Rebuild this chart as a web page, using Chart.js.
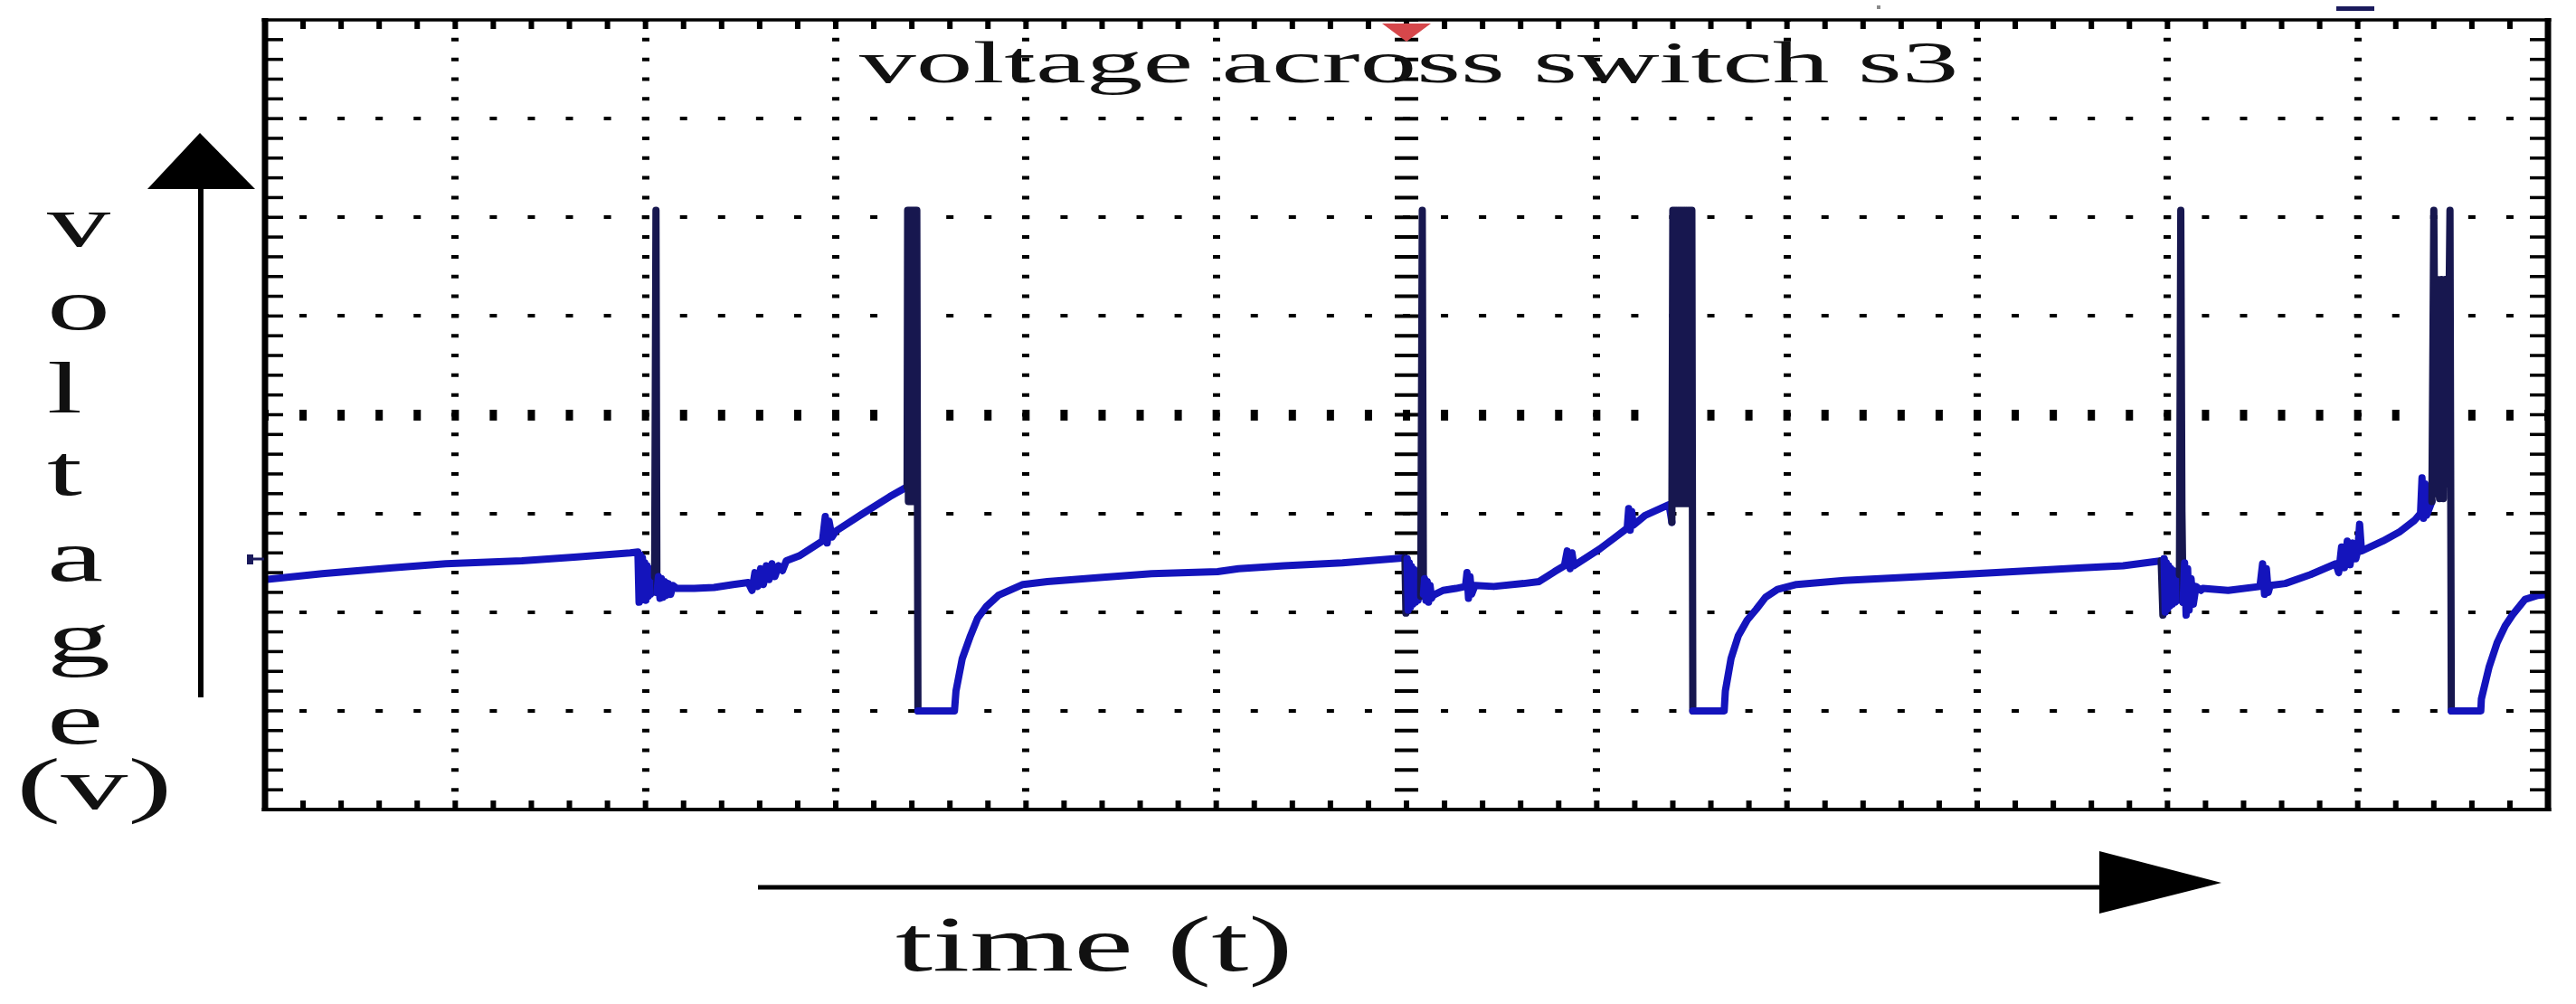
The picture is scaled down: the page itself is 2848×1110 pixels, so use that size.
<!DOCTYPE html>
<html>
<head>
<meta charset="utf-8">
<script src="https://cdn.jsdelivr.net/npm/chart.js@4.4.0/dist/chart.umd.min.js"></script>
<style>
  body { margin: 0; padding: 0; background: #fff; }
  #wrap { position: relative; width: 2848px; height: 1110px; overflow: hidden; background: #fff; }
  #chartCanvas { position: absolute; left: 0; top: 0; }
  .lbl {
    position: absolute;
    font-family: "Liberation Serif", "DejaVu Serif", serif;
    line-height: 1;
    color: #111;
    white-space: nowrap;
    transform-origin: 0 0;
  }
</style>
</head>
<body>
<div id="wrap">
  <canvas id="chartCanvas" width="2848" height="1110"></canvas>
  <div class="lbl" style="left:950px; top:36px; font-size:66px; transform:scaleX(1.9)">voltage across switch s3</div>
  <div class="lbl" style="left:990px; top:1001px; font-size:86px; transform:scaleX(1.72)">time (t)</div>
  <div class="lbl" style="left:52px; top:205px; font-size:80px; transform:scaleX(1.75)">v</div>
  <div class="lbl" style="left:52px; top:297px; font-size:80px; transform:scaleX(1.75)">o</div>
  <div class="lbl" style="left:52px; top:389px; font-size:80px; transform:scaleX(1.75)">l</div>
  <div class="lbl" style="left:52px; top:480px; font-size:80px; transform:scaleX(1.75)">t</div>
  <div class="lbl" style="left:52px; top:575px; font-size:80px; transform:scaleX(1.75)">a</div>
  <div class="lbl" style="left:52px; top:665px; font-size:80px; transform:scaleX(1.75)">g</div>
  <div class="lbl" style="left:52px; top:755px; font-size:80px; transform:scaleX(1.75)">e</div>
  <div class="lbl" style="left:18px; top:827px; font-size:80px; transform:scaleX(1.85)">(v)</div>
</div>
<script>
// screen divisions of the scope graticule
const xDivisions = 12;
const yDivisions = 8;
const minorPerDiv = 5;

// trace, in divisions (time, voltage)
const traceTime = [
  // slow ramp before the first turn-off
  0.00, 0.30, 0.67, 0.95, 1.35, 1.64, 1.92, 1.96,
  // ringing + narrow spike
  1.966, 1.972, 1.978, 1.984, 1.990, 1.996, 2.002, 2.008, 2.014, 2.020, 2.026, 2.032, 2.040, 2.048, 2.055, 2.060,
  2.068, 2.076, 2.084, 2.092, 2.100, 2.110, 2.120, 2.132, 2.145, 2.165,
  // rising curve
  2.256, 2.360, 2.461, 2.540, 2.560, 2.575, 2.590, 2.605, 2.620, 2.635, 2.650, 2.665, 2.680, 2.700, 2.720, 2.740,
  2.808, 2.930, 2.945, 2.955, 2.965, 2.980, 3.000, 3.127, 3.284, 3.375,
  // wide spike, drop to the floor
  3.378, 3.382, 3.386, 3.390, 3.394, 3.398, 3.402, 3.406, 3.410, 3.414, 3.418, 3.422, 3.426, 3.432,
  3.624, 3.632, 3.665, 3.708, 3.746, 3.793, 3.855, 3.984, 4.112, 4.388, 4.660, 5.007, 5.117, 5.355, 5.664, 5.992,
  // second period
  5.997, 6.003, 6.009, 6.015, 6.021, 6.027, 6.033, 6.040, 6.047, 6.054, 6.061, 6.068, 6.075, 6.083, 6.089,
  6.095, 6.102, 6.109, 6.116, 6.124, 6.132, 6.140,
  6.192, 6.260, 6.310, 6.318, 6.326, 6.334, 6.342, 6.360, 6.459, 6.616, 6.697, 6.778, 6.830, 6.845, 6.860, 6.870, 6.880,
  7.016, 7.092, 7.160, 7.168, 7.176, 7.184, 7.192, 7.254, 7.380, 7.395,
  7.400, 7.405, 7.410, 7.415, 7.420, 7.425, 7.430, 7.435, 7.440, 7.445, 7.450, 7.455, 7.460, 7.465, 7.470, 7.475,
  7.480, 7.485, 7.490, 7.495, 7.500, 7.505,
  7.670, 7.676, 7.706, 7.744, 7.791, 7.839, 7.887, 7.950, 8.050, 8.300, 8.700, 9.100, 9.553, 9.767, 9.967,
  // third period
  9.976, 9.982, 9.988, 9.994, 10.000, 10.006, 10.012, 10.018, 10.025, 10.032, 10.040, 10.048, 10.056, 10.063, 10.070,
  10.076, 10.082, 10.090, 10.098, 10.106, 10.114, 10.124, 10.136, 10.150, 10.176,
  10.186, 10.319, 10.486, 10.500, 10.510, 10.520, 10.530, 10.540, 10.619, 10.752, 10.885, 10.900, 10.915, 10.930,
  10.945, 10.960, 10.975, 10.990, 11.000, 11.010, 11.020, 11.132, 11.218, 11.299, 11.330, 11.338, 11.346, 11.354,
  11.362, 11.390,
  11.400, 11.410, 11.420, 11.430, 11.440, 11.450, 11.460, 11.470, 11.485, 11.492,
  11.647, 11.650, 11.690, 11.733, 11.775, 11.813, 11.880, 11.947, 12.000
];
const traceVolts = [
  2.33, 2.39, 2.45, 2.49, 2.52, 2.56, 2.60, 2.61,
  2.10, 2.58, 2.12, 2.55, 2.14, 2.50, 2.12, 2.47, 2.16, 2.44, 2.18, 2.40, 2.20, 2.36, 6.07, 2.20,
  2.36, 2.14, 2.34, 2.15, 2.31, 2.17, 2.29, 2.18, 2.27, 2.24,
  2.24, 2.25, 2.28, 2.30, 2.22, 2.40, 2.26, 2.44, 2.28, 2.47, 2.33, 2.49, 2.36, 2.47, 2.42, 2.52,
  2.57, 2.72, 2.97, 2.70, 2.92, 2.76, 2.82, 2.98, 3.17, 3.27,
  6.07, 3.12, 6.07, 3.12, 6.07, 3.12, 6.07, 3.12, 6.07, 3.12, 6.07, 3.12, 6.07, 1.00,
  1.00, 1.20, 1.53, 1.76, 1.94, 2.06, 2.17, 2.28, 2.31, 2.35, 2.39, 2.41, 2.44, 2.47, 2.50, 2.55,
  1.99, 2.54, 2.02, 2.50, 2.05, 2.46, 2.08, 2.43, 2.10, 2.40, 2.12, 2.37, 2.16, 6.07, 2.18,
  2.34, 2.12, 2.31, 2.10, 2.27, 2.14, 2.17,
  2.22, 2.24, 2.26, 2.40, 2.14, 2.36, 2.18, 2.27, 2.26, 2.29, 2.31, 2.41, 2.47, 2.62, 2.44, 2.60, 2.47,
  2.64, 2.75, 2.85, 3.05, 2.83, 3.02, 2.88, 2.98, 3.09, 2.91,
  6.07, 3.10, 6.07, 3.10, 6.07, 3.10, 6.07, 3.10, 6.07, 3.10, 6.07, 3.10, 6.07, 3.10, 6.07, 3.10,
  6.07, 3.10, 6.07, 3.10, 6.07, 1.00,
  1.00, 1.20, 1.53, 1.76, 1.92, 2.03, 2.15, 2.23, 2.28, 2.32, 2.36, 2.40, 2.45, 2.47, 2.52,
  1.97, 2.54, 2.00, 2.50, 2.03, 2.47, 2.06, 2.44, 2.08, 2.42, 2.10, 2.40, 2.12, 2.38, 6.07,
  3.02, 2.10, 2.50, 1.97, 2.44, 2.02, 2.34, 2.08, 2.26, 2.22,
  2.24, 2.22, 2.26, 2.49, 2.18, 2.44, 2.20, 2.27, 2.29, 2.38, 2.49, 2.40, 2.66, 2.45,
  2.72, 2.48, 2.70, 2.54, 2.62, 2.89, 2.62, 2.72, 2.81, 2.93, 3.00, 3.36, 2.95, 3.30,
  2.98, 3.12,
  6.07, 3.20, 5.37, 3.15, 5.37, 3.15, 5.37, 3.30, 6.07, 1.00,
  1.00, 1.12, 1.44, 1.69, 1.86, 1.97, 2.13, 2.17, 2.18
];

// plot box on the page
const plotLeft = 293, plotRight = 2817, plotTop = 22, plotBottom = 895;
const minorX = (plotRight - plotLeft) / (xDivisions * minorPerDiv);
const minorY = (plotBottom - plotTop) / (yDivisions * minorPerDiv);

const clear = 'rgba(0,0,0,0)';

// frame and the small tick marks along its inside
const framePlugin = {
  id: 'frame',
  afterDatasetsDraw(chart) {
    const { ctx, chartArea: a } = chart;
    const xs = chart.scales.x, ys = chart.scales.y;
    ctx.save();
    ctx.fillStyle = '#000';
    for (let k = 1; k < xDivisions * minorPerDiv; k++) {
      const px = xs.getPixelForValue(k / minorPerDiv);
      ctx.fillRect(px - 3, a.top, 6, 10);
      ctx.fillRect(px - 3, a.bottom - 10, 6, 10);
    }
    for (let k = 1; k < yDivisions * minorPerDiv; k++) {
      const py = ys.getPixelForValue(k / minorPerDiv);
      ctx.fillRect(a.left, py - 1.75, 20, 3.5);
      ctx.fillRect(a.right - 20, py - 1.75, 20, 3.5);
    }
    ctx.fillRect(a.left - 3.5, a.top - 2, 7, a.bottom - a.top + 4);
    ctx.fillRect(a.right - 3.5, a.top - 2, 7, a.bottom - a.top + 4);
    ctx.fillRect(a.left - 3.5, a.top - 1.75, a.right - a.left + 7, 3.5);
    ctx.fillRect(a.left - 3.5, a.bottom - 2, a.right - a.left + 7, 4);
    ctx.restore();
  }
};

// arrows and the scope's little markers
const decorPlugin = {
  id: 'decor',
  afterDraw(chart) {
    const ctx = chart.ctx;
    ctx.save();
    ctx.fillStyle = '#000';
    // voltage arrow
    ctx.fillRect(219, 207, 6, 564);
    ctx.beginPath();
    ctx.moveTo(163, 209); ctx.lineTo(282, 209); ctx.lineTo(221, 147); ctx.closePath();
    ctx.fill();
    // time arrow
    ctx.fillRect(838, 978.5, 1488, 5);
    ctx.beginPath();
    ctx.moveTo(2321, 941); ctx.lineTo(2321, 1010); ctx.lineTo(2456, 976); ctx.closePath();
    ctx.fill();
    // trigger marker
    ctx.fillStyle = '#d6474b';
    ctx.beginPath();
    ctx.moveTo(1528, 26); ctx.lineTo(1582, 26); ctx.lineTo(1555, 46); ctx.closePath();
    ctx.fill();
    // channel marks
    ctx.fillStyle = '#1a1a5c';
    ctx.fillRect(2583, 7, 42, 5);
    ctx.fillRect(273, 613, 7, 11);
    ctx.fillRect(280, 616.5, 12, 3);
    ctx.fillStyle = '#8a8a8a';
    ctx.fillRect(2075, 6, 4, 4);
    ctx.restore();
  }
};

const ctx = document.getElementById('chartCanvas').getContext('2d');
new Chart(ctx, {
  type: 'line',
  data: {
    datasets: [{
      data: traceTime.map((t, i) => ({ x: t, y: traceVolts[i] })),
      borderWidth: 8,
      borderColor: '#1414bc',
      borderJoinStyle: 'round',
      borderCapStyle: 'round',
      pointRadius: 0,
      tension: 0,
      segment: {
        borderColor: c => {
          const dx = Math.abs(c.p1.x - c.p0.x), dy = Math.abs(c.p1.y - c.p0.y);
          return (dy > 60 && dy > 4 * dx) ? '#17174f' : '#1414bc';
        }
      }
    }]
  },
  options: {
    responsive: false,
    animation: false,
    devicePixelRatio: 1,
    layout: { padding: { left: plotLeft, right: 2848 - plotRight, top: plotTop, bottom: 1110 - plotBottom } },
    plugins: { legend: { display: false }, tooltip: { enabled: false }, title: { display: false } },
    scales: {
      x: {
        type: 'linear', min: 0, max: xDivisions,
        ticks: { display: false, stepSize: 1, maxTicksLimit: 50, autoSkip: false },
        grid: {
          drawTicks: false,
          color: c => (c.tick && (c.tick.value === 0 || c.tick.value === xDivisions)) ? clear : '#000',
          lineWidth: c => (c.tick && c.tick.value === xDivisions / 2) ? 26 : 8
        },
        border: { display: false, dash: [4, minorY - 4], dashOffset: 2 }
      },
      y: {
        type: 'linear', min: 0, max: yDivisions,
        ticks: { display: false, stepSize: 1, maxTicksLimit: 50, autoSkip: false },
        grid: {
          drawTicks: false,
          color: c => (c.tick && (c.tick.value === 0 || c.tick.value === yDivisions)) ? clear : '#000',
          lineWidth: c => (c.tick && c.tick.value === yDivisions / 2) ? 12 : 4
        },
        border: { display: false, dash: [8, minorX - 8], dashOffset: 4 }
      }
    }
  },
  plugins: [framePlugin, decorPlugin]
});
</script>
</body>
</html>
